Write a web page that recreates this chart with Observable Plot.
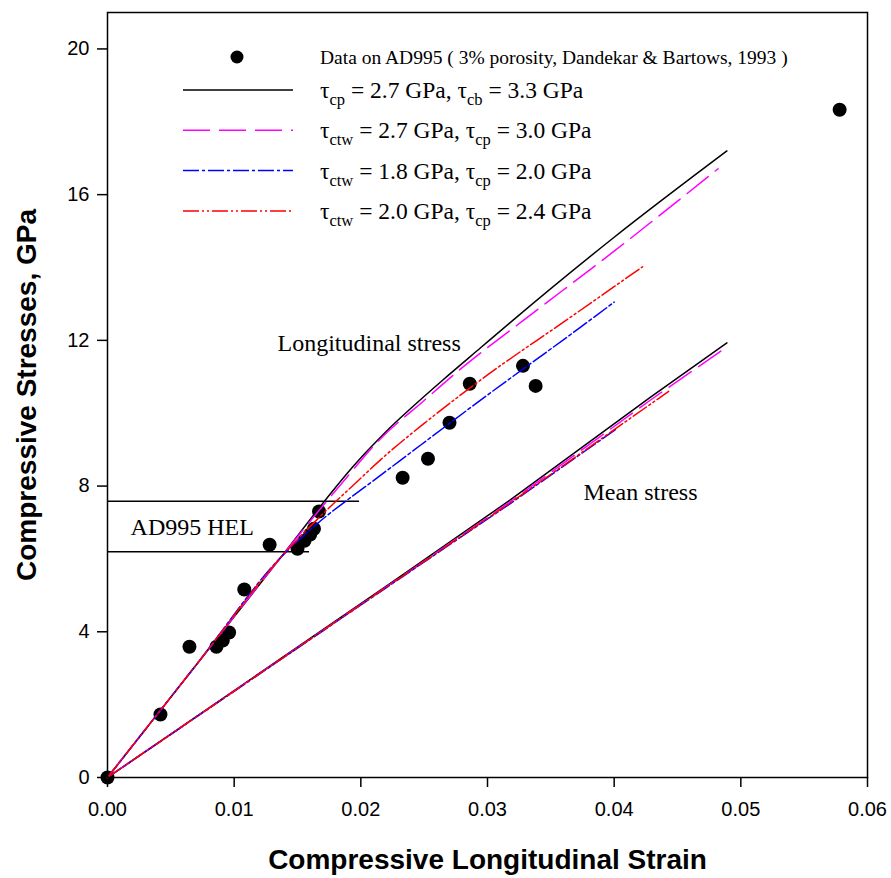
<!DOCTYPE html>
<html>
<head>
<meta charset="utf-8">
<script src="https://cdn.jsdelivr.net/npm/d3@7"></script>
<script src="https://cdn.jsdelivr.net/npm/@observablehq/plot@0.6"></script>
<style>
  html, body { margin: 0; padding: 0; background: white; }
  #wrap { position: relative; width: 891px; height: 878px; }
  #wrap svg { display: block; }
  #legend { position: absolute; left: 0; top: 0; }
</style>
</head>
<body>
<div id="wrap"></div>
<script>
// ---------------- Data ----------------
const xTicks = [0, 0.01, 0.02, 0.03, 0.04, 0.05, 0.06];
const yTicks = [0, 4, 8, 12, 16, 20];

// Experimental data (AD995, Dandekar & Bartows, 1993)
const dataStrain = [0, 0.00418, 0.00647, 0.0086, 0.0091, 0.0096, 0.0108, 0.0128, 0.0150, 0.01555, 0.0160, 0.0163, 0.0167, 0.0233, 0.0253, 0.0270, 0.0286, 0.0328, 0.0338, 0.0578];
const dataStress = [0, 1.73, 3.59, 3.59, 3.76, 3.98, 5.16, 6.39, 6.28, 6.50, 6.67, 6.83, 7.30, 8.23, 8.75, 9.74, 10.81, 11.30, 10.75, 18.33];

// Longitudinal stress model curves
const longBlackX   = [0, 0.0070, 0.0137, 0.0180, 0.0192, 0.0205, 0.0220, 0.0240, 0.0265, 0.0295, 0.0320, 0.0400, 0.0489];
const longBlackY   = [0, 3.09, 6.05, 7.96, 8.46, 8.96, 9.50, 10.15, 10.92, 11.81, 12.55, 14.83, 17.20];
const longMagentaX = [0, 0.0070, 0.0137, 0.0186, 0.0215, 0.0250, 0.0280, 0.0328, 0.0400, 0.0482];
const longMagentaY = [0, 3.09, 6.05, 8.12, 9.28, 10.35, 11.25, 12.54, 14.45, 16.71];
const longBlueX    = [0, 0.0070, 0.0137, 0.0165, 0.0210, 0.0231, 0.0300, 0.0373, 0.0400];
const longBlueY    = [0, 3.09, 6.05, 6.95, 8.15, 8.70, 10.50, 12.35, 13.05];
const longRedX     = [0, 0.0070, 0.0137, 0.0166, 0.0197, 0.02155, 0.0250, 0.0300, 0.03616, 0.04224];
const longRedY     = [0, 3.09, 6.05, 7.10, 8.12, 8.72, 9.72, 11.05, 12.54, 14.02];

// Mean stress model curves
const meanBlackX   = [0, 0.0223, 0.0318, 0.0429, 0.0489];
const meanBlackY   = [0, 5.32, 7.62, 10.45, 11.93];
const meanMagentaX = [0, 0.0223, 0.0318, 0.0429, 0.0489];
const meanMagentaY = [0, 5.30, 7.57, 10.37, 11.82];
const meanBlueX    = [0, 0.0223, 0.0318, 0.0401];
const meanBlueY    = [0, 5.28, 7.52, 9.55];
const meanRedX     = [0, 0.0223, 0.0318, 0.0443];
const meanRedY     = [0, 5.29, 7.54, 10.60];

// HEL lines
const helStress = [7.58, 6.20];
const helStrainEnd = [0.0199, 0.01595];

// Annotations
const noteText = ["Longitudinal stress", "Mean stress", "AD995 HEL"];
const noteX = [0.01342, 0.03758, 0.00182];
const noteY = [11.93, 7.82, 6.86];

const xLabel = "Compressive Longitudinal Strain";
const yLabel = "Compressive Stresses, GPa";

// ---------------- Build tables ----------------
const zip = (xs, ys) => xs.map((x, i) => ({x, y: ys[i]}));
const points = zip(dataStrain, dataStress);
const hel = helStress.map((y, i) => ({y, x2: helStrainEnd[i]}));
const notes = noteText.map((t, i) => ({t, x: noteX[i], y: noteY[i]}));

const series = [
  {lx: longBlackX, ly: longBlackY, mx: meanBlackX, my: meanBlackY, stroke: "#000000", dash: null},
  {lx: longMagentaX, ly: longMagentaY, mx: meanMagentaX, my: meanMagentaY, stroke: "#ff00ff", dash: "27,9"},
  {lx: longBlueX, ly: longBlueY, mx: meanBlueX, my: meanBlueY, stroke: "#0000ff", dash: "16,3,3,3"},
  {lx: longRedX, ly: longRedY, mx: meanRedX, my: meanRedY, stroke: "#ff0000", dash: "16,3,2,3,2,3"}
];

const lineMarks = [];
for (const s of series) {
  lineMarks.push(Plot.line(zip(s.lx, s.ly), {
    x: "x", y: "y", stroke: s.stroke, strokeWidth: 1.5, curve: "monotone-x",
    strokeDasharray: s.dash || undefined
  }));
  lineMarks.push(Plot.line(zip(s.mx, s.my), {
    x: "x", y: "y", stroke: s.stroke, strokeWidth: 1.5,
    strokeDasharray: s.dash || undefined
  }));
}

const chart = Plot.plot({
  width: 891,
  height: 878,
  marginLeft: 107,
  marginRight: 24,
  marginTop: 12,
  marginBottom: 101,
  x: {domain: [0, 0.06]},
  y: {domain: [0, 21]},
  style: {fontFamily: "'Liberation Sans', Arial, sans-serif", fontSize: "20px", background: "white", color: "black"},
  marks: [
    Plot.axisX({ticks: xTicks, tickFormat: d => d.toFixed(2), tickSize: 10, tickPadding: 14, strokeWidth: 1.5, label: null, fontSize: 20}),
    Plot.axisY({ticks: yTicks, tickFormat: d => String(d), tickSize: 10, tickPadding: 8, strokeWidth: 1.5, label: null, fontSize: 20}),
    Plot.ruleY(hel, {y: "y", x1: 0, x2: "x2", stroke: "black", strokeWidth: 1.5}),
    Plot.dot(points, {x: "x", y: "y", r: 7, fill: "black", stroke: "none"}),
    ...lineMarks,
    Plot.text(notes, {x: "x", y: "y", text: "t", textAnchor: "start", fontSize: 24, fontFamily: "'Liberation Serif', 'Times New Roman', serif", fill: "black"}),
    Plot.text([xLabel], {frameAnchor: "bottom", lineAnchor: "middle", textAnchor: "middle", dy: 83, fontSize: 28, fontWeight: "bold", fill: "black"}),
    Plot.text([yLabel], {frameAnchor: "left", lineAnchor: "middle", textAnchor: "middle", dx: -80, rotate: -90, fontSize: 28, fontWeight: "bold", fill: "black"}),
    Plot.frame({stroke: "black", strokeWidth: 1.5})
  ]
});

const wrap = document.getElementById("wrap");
wrap.appendChild(chart);

// ---------------- Legend (overlay) ----------------
const legendEntries = [
  {kind: "dot", parts: [["Data on AD995 ( 3% porosity, Dandekar & Bartows, 1993 )", 0]]},
  {kind: "line", stroke: "#000000", dash: null, parts: [["τ", 0], ["cp", 1], [" = 2.7 GPa, τ", 0], ["cb", 1], [" = 3.3 GPa", 0]]},
  {kind: "line", stroke: "#ff00ff", dash: "27,9", parts: [["τ", 0], ["ctw", 1], [" = 2.7 GPa, τ", 0], ["cp", 1], [" = 3.0 GPa", 0]]},
  {kind: "line", stroke: "#0000ff", dash: "16,3,3,3", parts: [["τ", 0], ["ctw", 1], [" = 1.8 GPa, τ", 0], ["cp", 1], [" = 2.0 GPa", 0]]},
  {kind: "line", stroke: "#ff0000", dash: "16,3,2,3,2,3", parts: [["τ", 0], ["ctw", 1], [" = 2.0 GPa, τ", 0], ["cp", 1], [" = 2.4 GPa", 0]]}
];

const leg = d3.select(wrap).append("svg")
  .attr("id", "legend")
  .attr("width", 891).attr("height", 878)
  .style("font-family", "'Liberation Serif', 'Times New Roman', serif");

legendEntries.forEach((e, i) => {
  const cy = i === 0 ? 57 : 90 + (i - 1) * 40.3;
  if (e.kind === "dot") {
    leg.append("circle").attr("cx", 237).attr("cy", cy).attr("r", 6.5).attr("fill", "black");
  } else {
    const ln = leg.append("line").attr("x1", 183).attr("x2", 293).attr("y1", cy).attr("y2", cy)
      .attr("stroke", e.stroke).attr("stroke-width", 1.5);
    if (e.dash) ln.attr("stroke-dasharray", e.dash);
  }
  const t = leg.append("text").attr("x", 320).attr("y", i === 0 ? cy + 7 : cy + 8)
    .attr("font-size", i === 0 ? 19.5 : 23.5).attr("fill", "black");
  let sub = false;
  for (const [str, isSub] of e.parts) {
    const ts = t.append("tspan").text(str);
    if (isSub && !sub) { ts.attr("dy", 7).attr("font-size", 16.5); sub = true; }
    else if (!isSub && sub) { ts.attr("dy", -7); sub = false; }
  }
});
</script>
</body>
</html>
